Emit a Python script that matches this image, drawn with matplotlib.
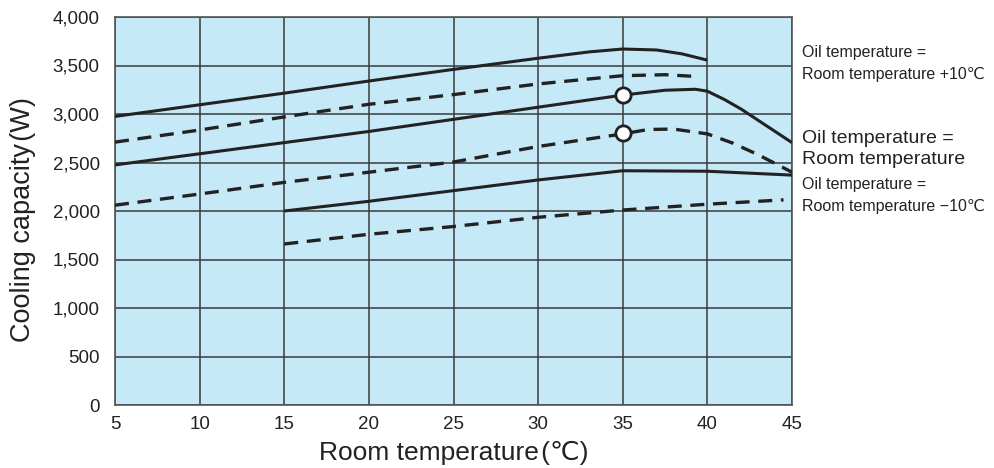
"""Cooling capacity vs room temperature chart."""

import matplotlib
matplotlib.use("Agg")
import matplotlib.pyplot as plt

FONT = ["Liberation Sans", "DejaVu Sans"]
plt.rcParams["font.family"] = FONT

# Oil temperature = room temperature + 10 C
plus10_solid_x = [5, 10, 15, 20, 25, 30, 33, 35, 37, 38.5, 40]
plus10_solid_y = [2975, 3095, 3215, 3340, 3460, 3575, 3640, 3670, 3660, 3620, 3555]
plus10_dash_x = [5, 10, 15, 20, 25, 30, 35, 37.5, 39.5]
plus10_dash_y = [2710, 2835, 2970, 3100, 3200, 3310, 3395, 3405, 3385]

# Oil temperature = room temperature
room_solid_x = [5, 10, 15, 20, 25, 30, 35, 37.5, 39.3, 40, 41, 42, 43, 44, 45]
room_solid_y = [2475, 2590, 2705, 2820, 2945, 3070, 3195, 3245, 3255, 3235, 3150, 3050, 2935, 2820, 2705]
room_dash_x = [5, 10, 15, 20, 25, 30, 35, 36.5, 38, 40, 41.5, 43, 44, 45]
room_dash_y = [2060, 2175, 2295, 2400, 2505, 2665, 2795, 2840, 2845, 2795, 2700, 2580, 2490, 2400]

# Oil temperature = room temperature - 10 C
minus10_solid_x = [15, 20, 25, 30, 35, 40, 45]
minus10_solid_y = [2000, 2100, 2210, 2320, 2415, 2410, 2370]
minus10_dash_x = [15, 20, 25, 30, 35, 40, 44.5]
minus10_dash_y = [1660, 1760, 1840, 1935, 2010, 2070, 2115]

# Rated points
rated_x = [35, 35]
rated_y = [3200, 2800]

x_ticks = [5, 10, 15, 20, 25, 30, 35, 40, 45]
y_ticks = [0, 500, 1000, 1500, 2000, 2500, 3000, 3500, 4000]

fig = plt.figure(figsize=(9.94, 4.68), dpi=100)
ax = fig.add_axes([115 / 994, 1 - 405 / 468, 677 / 994, 388 / 468])
ax.set_facecolor("#c6e9f8")

line_color = "#222222"
text_color = "#222222"
dash = (0, (4.2, 2.6))
for xs, ys in [(plus10_solid_x, plus10_solid_y), (room_solid_x, room_solid_y),
               (minus10_solid_x, minus10_solid_y)]:
    ax.plot(xs, ys, color=line_color, linewidth=2.2, solid_capstyle="butt", zorder=3)
for xs, ys in [(plus10_dash_x, plus10_dash_y), (room_dash_x, room_dash_y),
               (minus10_dash_x, minus10_dash_y)]:
    ax.plot(xs, ys, color=line_color, linewidth=2.4, linestyle=dash, zorder=3)

ax.plot(rated_x, rated_y, linestyle="none", marker="o", markersize=11,
        markerfacecolor="white", markeredgecolor=line_color, markeredgewidth=2, zorder=4)

ax.set_xlim(5, 45)
ax.set_ylim(0, 4000)
ax.set_xticks(x_ticks)
ax.set_yticks(y_ticks)
ax.set_yticklabels([f"{v:,}" for v in y_ticks])
ax.tick_params(length=0, labelsize=13.5, colors=text_color)
ax.tick_params(axis="y", pad=11)
ax.tick_params(axis="x", pad=8)
ax.grid(True, color="#3a3a3a", linewidth=1.1, zorder=1)
ax.set_axisbelow(True)
for spine in ax.spines.values():
    spine.set_color("#555555")
    spine.set_linewidth(1.2)

fig.text(454 / 994, 1 - 453 / 468, "Room temperature\u200a(℃)", fontsize=19,
         ha="center", va="center", color=text_color)
fig.text(23 / 994, 1 - 220 / 468, "Cooling capacity\u200a(W)", fontsize=19.5,
         rotation=90, ha="center", va="center", color=text_color)

fig.text(802 / 994, 1 - 53 / 468, "Oil temperature =", fontsize=11.5, va="center", color=text_color)
fig.text(802 / 994, 1 - 74 / 468, "Room temperature +10℃", fontsize=11.5, va="center", color=text_color)
fig.text(802 / 994, 1 - 138 / 468, "Oil temperature =", fontsize=14, va="center", color=text_color)
fig.text(802 / 994, 1 - 160 / 468, "Room temperature", fontsize=14, va="center", color=text_color)
fig.text(802 / 994, 1 - 185 / 468, "Oil temperature =", fontsize=11.5, va="center", color=text_color)
fig.text(802 / 994, 1 - 207 / 468, "Room temperature −10℃", fontsize=11.5, va="center", color=text_color)

fig.savefig("out.png", dpi=100)
plt.close(fig)
